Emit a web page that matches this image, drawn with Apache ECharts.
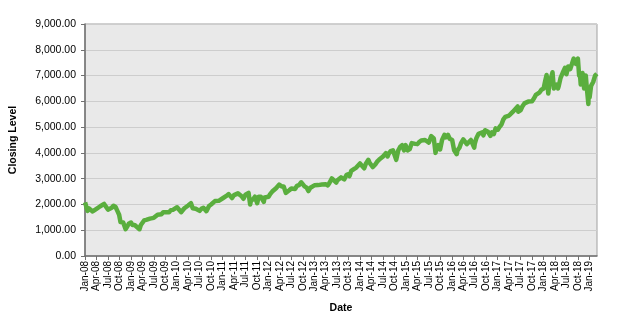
<!DOCTYPE html>
<html><head><meta charset="utf-8">
<script src="https://cdn.jsdelivr.net/npm/echarts@6/dist/echarts.min.js"></script>
<style>html,body{margin:0;padding:0;background:#fff}#c{width:622px;height:320px}</style>
</head><body><div id="c"></div>
<script>
var monthNames = ['Jan','Feb','Mar','Apr','May','Jun','Jul','Aug','Sep','Oct','Nov','Dec'];
var dates = [
'2008-01-02','2008-01-15','2008-01-22','2008-02-01','2008-02-15','2008-03-01','2008-03-10','2008-03-17','2008-04-01','2008-04-15','2008-05-01','2008-05-15','2008-06-01','2008-06-15','2008-07-01','2008-07-15','2008-08-01','2008-08-15','2008-09-01','2008-09-15','2008-09-29','2008-10-10','2008-10-15','2008-11-01','2008-11-20','2008-12-01','2008-12-15',
'2009-01-02','2009-01-15','2009-02-01','2009-02-15','2009-03-09','2009-03-20','2009-04-01','2009-04-15','2009-05-01','2009-05-15','2009-06-01','2009-06-15','2009-07-01','2009-07-08','2009-07-15','2009-08-01','2009-08-15','2009-09-01','2009-09-15','2009-10-01','2009-10-15','2009-11-01','2009-11-15','2009-12-01','2009-12-15',
'2010-01-04','2010-01-15','2010-02-05','2010-02-15','2010-03-01','2010-03-15','2010-04-01','2010-04-23','2010-05-07','2010-05-15','2010-06-01','2010-06-15','2010-07-01','2010-07-15','2010-08-01','2010-08-25','2010-09-15','2010-10-01','2010-10-15','2010-11-01','2010-11-15','2010-12-01','2010-12-15',
'2011-01-03','2011-01-15','2011-02-01','2011-02-18','2011-03-16','2011-04-01','2011-04-15','2011-05-02','2011-05-15','2011-06-01','2011-06-15','2011-07-01','2011-07-15','2011-07-26','2011-08-08','2011-08-15','2011-09-01','2011-09-15','2011-10-03','2011-10-15','2011-11-01','2011-11-25','2011-12-01','2011-12-15',
'2012-01-03','2012-01-15','2012-02-01','2012-02-15','2012-03-01','2012-03-26','2012-04-15','2012-05-01','2012-05-18','2012-06-01','2012-06-15','2012-07-01','2012-07-15','2012-08-01','2012-08-15','2012-09-01','2012-09-19','2012-10-01','2012-10-15','2012-11-01','2012-11-15','2012-12-01','2012-12-15',
'2013-01-02','2013-01-15','2013-02-01','2013-02-15','2013-03-01','2013-03-15','2013-04-01','2013-04-18','2013-05-01','2013-05-20','2013-06-01','2013-06-24','2013-07-01','2013-07-15','2013-08-01','2013-08-27','2013-09-15','2013-10-01','2013-10-08','2013-10-22','2013-11-01','2013-11-15','2013-12-01','2013-12-15','2013-12-31',
'2014-01-15','2014-02-03','2014-02-15','2014-03-06','2014-03-15','2014-04-11','2014-04-30','2014-05-15','2014-06-01','2014-06-15','2014-07-01','2014-07-24','2014-08-07','2014-08-15','2014-09-01','2014-09-19','2014-10-15','2014-11-01','2014-11-15','2014-12-01','2014-12-16','2014-12-29',
'2015-01-15','2015-02-01','2015-02-15','2015-03-01','2015-03-15','2015-04-01','2015-04-15','2015-05-01','2015-05-15','2015-06-01','2015-06-15','2015-07-01','2015-07-20','2015-08-10','2015-08-24','2015-09-01','2015-09-15','2015-09-29','2015-10-15','2015-11-03','2015-11-15','2015-12-01','2015-12-15',
'2016-01-04','2016-01-20','2016-02-09','2016-02-15','2016-03-01','2016-03-15','2016-04-01','2016-04-15','2016-04-29','2016-05-15','2016-06-01','2016-06-27','2016-07-01','2016-07-15','2016-08-01','2016-08-15','2016-09-01','2016-09-09','2016-09-22','2016-10-15','2016-11-04','2016-11-15','2016-12-01','2016-12-15',
'2017-01-03','2017-01-15','2017-02-01','2017-02-15','2017-03-01','2017-03-15','2017-04-01','2017-04-15','2017-05-01','2017-05-15','2017-06-08','2017-06-12','2017-07-01','2017-07-15','2017-08-01','2017-08-15','2017-09-01','2017-09-15','2017-10-01','2017-10-15','2017-11-01','2017-11-15','2017-12-01','2017-12-15',
'2018-01-02','2018-01-15','2018-01-26','2018-02-08','2018-02-15','2018-03-01','2018-03-12','2018-03-23','2018-04-02','2018-04-13','2018-04-20','2018-04-25','2018-05-01','2018-05-15','2018-06-01','2018-06-20','2018-07-01','2018-07-15','2018-07-25','2018-08-01','2018-08-15','2018-08-29','2018-09-15','2018-10-01','2018-10-11','2018-10-17','2018-10-24','2018-11-01','2018-11-07','2018-11-20','2018-12-03','2018-12-10','2018-12-24','2018-12-26',
'2019-01-03','2019-01-15','2019-02-01','2019-02-15','2019-02-28'
];
var closingLevel = [
2080,1850,1750,1850,1800,1730,1700,1680,1830,1820,1930,2000,2020,1960,1800,1780,1870,1950,1900,1750,1600,1320,1250,1300,1040,1130,1250,
1300,1200,1200,1180,1040,1200,1250,1380,1400,1400,1450,1480,1480,1430,1550,1600,1590,1620,1700,1700,1770,1700,1780,1790,1840,
1890,1860,1700,1770,1850,1900,1960,2050,1850,1860,1830,1880,1750,1830,1870,1740,1940,2000,2050,2130,2130,2140,2200,
2240,2290,2330,2400,2250,2360,2330,2430,2380,2320,2220,2380,2380,2450,2000,2150,2200,2300,2050,2300,2300,2100,2270,2230,
2300,2400,2500,2570,2630,2770,2700,2700,2450,2450,2550,2620,2600,2600,2720,2750,2860,2800,2700,2650,2520,2650,2640,
2740,2730,2750,2760,2770,2810,2780,2740,2840,3010,2970,2850,2930,3000,3050,2970,3150,3180,3100,3300,3330,3380,3430,3450,3590,
3600,3400,3580,3730,3620,3450,3550,3660,3740,3770,3860,3990,3860,3960,4070,4100,3730,4100,4230,4300,4100,4300,
4100,4150,4380,4450,4350,4340,4420,4480,4470,4500,4430,4400,4650,4560,4000,4180,4300,4130,4500,4700,4600,4700,4550,
4500,4100,3950,4100,4200,4390,4520,4540,4340,4320,4500,4200,4350,4580,4740,4800,4800,4680,4880,4820,4660,4800,4730,4950,
4900,5000,5100,5300,5400,5400,5450,5400,5600,5650,5800,5600,5650,5800,5920,5900,5990,5970,6000,6100,6250,6300,6350,6450,
6500,6800,7020,6300,6650,6700,7130,6500,6450,6650,6700,6500,6600,6900,7100,7300,7050,7350,7400,7250,7300,7660,7450,7660,7000,7100,6650,7000,7100,6500,7000,6600,5900,6250,
6150,6600,6750,7000,7070
];
var yTicks = [0,1000,2000,3000,4000,5000,6000,7000,8000,9000];

function monthIndex(s){
  var p = s.split('-'); var y=+p[0], m=+p[1], d=+p[2];
  var dim = new Date(y, m, 0).getDate();
  return (y-2008)*12 + (m-1) + (d-1)/dim;
}
function fmtY(v){
  var s = Math.round(v).toString().replace(/\B(?=(\d{3})+(?!\d))/g, ',');
  return s + '.00';
}
var seriesData = dates.map(function(d,i){ return [monthIndex(d), closingLevel[i]]; });

var chart = echarts.init(document.getElementById('c'), null, {renderer:'canvas'});
chart.setOption({
  animation:false,
  backgroundColor:'#ffffff',
  grid:{left:76, right:25, top:24, bottom:64, show:true, backgroundColor:'#e9e9e9', borderColor:'#a0a0a0', borderWidth:1},
  xAxis:{
    type:'value', min:0, max:134, interval:3,
    name:'Date', nameLocation:'middle', nameGap:47,
    nameTextStyle:{fontFamily:'Liberation Sans, Arial', fontWeight:'bold', fontSize:10.5, color:'#000'},
    axisLine:{show:true, lineStyle:{color:'#707070', width:1.5}},
    axisTick:{show:true, length:4, lineStyle:{color:'#707070'}},
    splitLine:{show:false},
    axisLabel:{rotate:90, fontFamily:'Liberation Sans, Arial', fontSize:10, color:'#000', margin:5, showMaxLabel:false,
      formatter:function(v){ if (v % 3 !== 0) return ''; var y = 8 + Math.floor(v/12); return monthNames[v%12] + '-' + (y<10?'0':'') + y; }}
  },
  yAxis:{
    type:'value', min:0, max:9000, interval:1000,
    name:'Closing Level', nameLocation:'middle', nameGap:66,
    nameTextStyle:{fontFamily:'Liberation Sans, Arial', fontWeight:'bold', fontSize:10.5, color:'#000'},
    axisLine:{show:true, lineStyle:{color:'#707070', width:1.5}},
    axisTick:{show:true, length:4, lineStyle:{color:'#707070'}},
    splitLine:{show:true, lineStyle:{color:'#cdcdcd', width:1}},
    axisLabel:{fontFamily:'Liberation Sans, Arial', fontSize:10.5, color:'#000', margin:9, formatter:fmtY}
  },
  series:[{
    type:'line', data:seriesData, showSymbol:false, symbol:'none',
    lineStyle:{color:'#5aae3e', width:4.5, join:'round'}
  }]
});
</script></body></html>
